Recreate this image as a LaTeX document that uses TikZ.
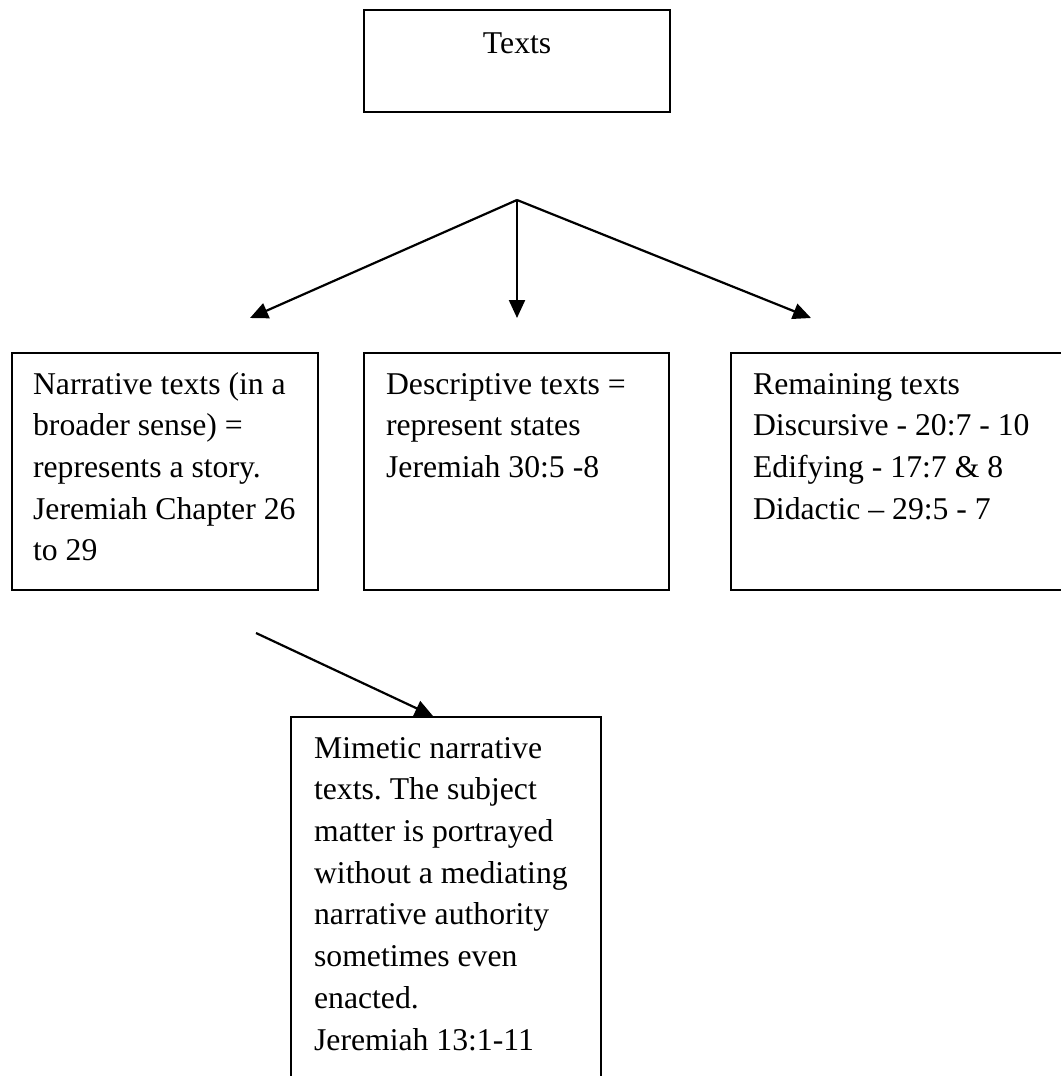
\documentclass[tikz,border=0pt]{standalone}
\usepackage{fontspec}
\setmainfont{Liberation Serif}
\usetikzlibrary{arrows.meta,calc}
\frenchspacing
\newcommand{\bxt}[3]{\begin{minipage}[t][#1][t]{#2}\raggedright\rule{0pt}{41pt}#3\end{minipage}}
\tikzset{
  frame/.style={draw, line width=2.2pt, anchor=north west, inner ysep=0pt, inner xsep=22pt},
  arr/.style={line width=2.2pt, -{Triangle[length=18pt,width=16pt]}}
}
\begin{document}
\begin{tikzpicture}[x=1pt,y=-1pt]
\fontsize{31.7}{41.7}\selectfont
\useasboundingbox (0,0) rectangle (1060,1076);
\fill[white] (0,0) rectangle (1060,1076);
% top box
\node[frame, inner xsep=0pt] (top) at (363,9)
  {\begin{minipage}[t][102pt][t]{306pt}\centering\rule{0pt}{43pt}Texts\end{minipage}};
% three boxes
\node[frame, inner xsep=21pt] (b1) at (11,352)
  {\bxt{237pt}{264pt}{\mbox{Narrative texts (in a}\\\mbox{broader sense) =}\\\mbox{represents a story.}\\\mbox{Jeremiah Chapter 26}\\\mbox{to 29}}};
\node[frame] (b2) at (363,352)
  {\bxt{237pt}{261pt}{\mbox{Descriptive texts =}\\\mbox{represent states}\\\mbox{Jeremiah 30:5 -8}}};
\node[frame] (b3) at (730,352)
  {\bxt{237pt}{320pt}{\mbox{Remaining texts}\\\mbox{Discursive - 20:7 - 10}\\\mbox{Edifying - 17:7 \& 8}\\\mbox{Didactic -- 29:5 - 7}}};
\node[frame, inner xsep=23pt] (b4) at (290,716)
  {\bxt{380pt}{264pt}{\mbox{Mimetic narrative}\\\mbox{texts. The subject}\\\mbox{matter is portrayed}\\\mbox{without a mediating}\\\mbox{narrative authority}\\\mbox{sometimes even}\\\mbox{enacted.}\\\mbox{Jeremiah 13:1-11}}};
% connectors
\coordinate (apex) at (517,200);
\coordinate (tl) at (250,318);
\coordinate (tm) at (517,318);
\coordinate (tr) at (811,318);
\coordinate (ls) at (256,633);
\draw[arr] (apex) -- (tl);
\draw[arr] (apex) -- (tm);
\draw[arr] (apex) -- (tr);
\draw[arr] (ls) -- ($(b4.north west)!0.458!(b4.north east)$);
\end{tikzpicture}
\end{document}
